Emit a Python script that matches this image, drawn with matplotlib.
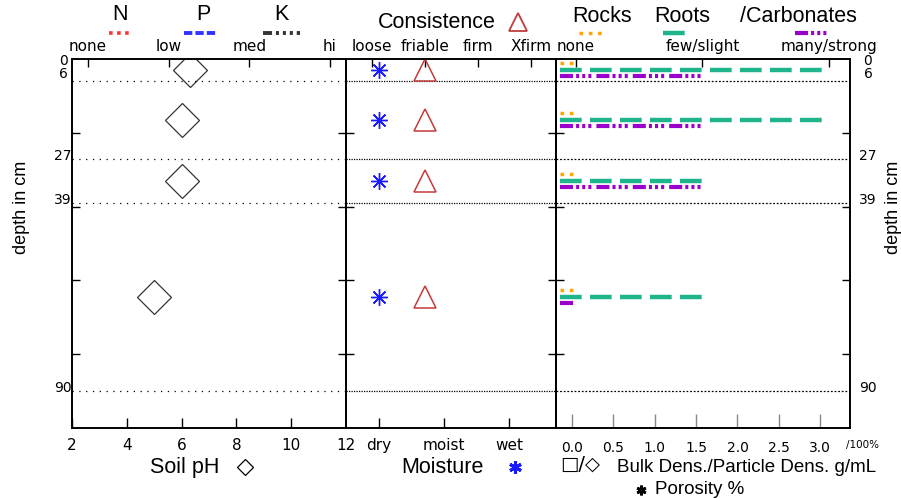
import numpy as np
import matplotlib.pyplot as plt
from matplotlib.lines import Line2D
from matplotlib.transforms import blended_transform_factory

plt.rcParams['font.family'] = ['Liberation Sans', 'DejaVu Sans']
plt.rcParams['lines.scale_dashes'] = False

# soil horizons (cm)
horizon_top = [0, 6, 27, 39]
horizon_bot = [6, 27, 39, 90]
depth_labels = [0, 6, 27, 39, 90]

soil_ph = [6.3, 6.0, 6.0, 5.0]
moisture = [0, 0, 0, 0]        # index into moisture_cls
consistence = [1, 1, 1, 1]     # index into consistence_cls
rocks = [0, 0, 0, 0]           # index into amount_cls
roots = [2, 2, 1, 1]
carbonates = [1, 1, 1, 0]

nutrient_cls = ['none', 'low', 'med', 'hi']
moisture_cls = ['dry', 'moist', 'wet']
consistence_cls = ['loose', 'friable', 'firm', 'Xfirm']
amount_cls = ['none', 'few/slight', 'many/strong']
ph_ticks = [2, 4, 6, 8, 10, 12]
dens_ticks = [0.0, 0.5, 1.0, 1.5, 2.0, 2.5, 3.0]
depth_ticks = [0, 20, 40, 60, 80, 100]

mid_depth = [(a + b) / 2 for a, b in zip(horizon_top, horizon_bot)]

W, H = 901, 498
fig = plt.figure(figsize=(W / 100, H / 100), dpi=100)


def fx(px):
    return px / W


def fy(py):
    return 1 - py / H


top, bot = 59, 428
ax1 = fig.add_axes([fx(72), fy(bot), fx(346 - 72), fy(top) - fy(bot)])
ax2 = fig.add_axes([fx(346), fy(bot), fx(556 - 346), fy(top) - fy(bot)])
ax3 = fig.add_axes([fx(556), fy(bot), fx(850 - 556), fy(top) - fy(bot)])

for ax in (ax1, ax2, ax3):
    ax.set_ylim(100, 0)
    ax.set_yticks(depth_ticks[1:-1])
    ax.set_yticklabels([])
    ax.tick_params(axis='y', direction='in', length=6, width=1,
                   left=True, right=True)
    ax.tick_params(axis='x', direction='in', length=7, width=1, pad=7,
                   labelsize=11, labelfontfamily='DejaVu Sans')
    for s in ax.spines.values():
        s.set_linewidth(1.2)

# ---- soil pH panel
ax1.set_xlim(2, 12)
ax1.set_xticks(ph_ticks)
ax1.plot(soil_ph, mid_depth, 'D', ms=17.5, mfc='none', mec='#333333',
         mew=0.9, ls='none')
ax1t = ax1.twiny()
ax1t.set_xlim(-0.2, 3.2)
ax1t.set_xticks(range(len(nutrient_cls)))
ax1t.set_xticklabels(nutrient_cls)

# ---- moisture / consistence panel
ax2.set_xlim(-0.508, 2.723)
ax2.set_xticks(range(len(moisture_cls)))
ax2.set_xticklabels(moisture_cls)
ax2.plot(moisture, mid_depth, marker=(8, 2, 0), ms=12, mec='#1a1aff',
         mew=1.0, ls='none')
ax2t = ax2.twiny()
ax2t.set_xlim(-0.49, 3.47)
ax2t.set_xticks(range(len(consistence_cls)))
ax2t.set_xticklabels(consistence_cls)
ax2t.plot(consistence, mid_depth, '^', ms=16, mfc='none', mec='#c23b3b',
          mew=1.1, ls='none')

# ---- rocks / roots / carbonates panel
ax3.set_xlim(-0.193, 3.36)
ax3.set_xticks(dens_ticks)
ax3.set_xticklabels([f'{v:.1f}' for v in dens_ticks])
ax3.tick_params(axis='x', labelsize=10, length=10, color='#888888', pad=9)
ax3t = ax3.twiny()
ax3t.set_xlim(-0.158, 2.166)
ax3t.set_xticks(range(len(amount_cls)))
ax3t.set_xticklabels(amount_cls)

rock_style = dict(color='#ffa500', lw=2.5, dashes=(2.6, 4.1),
                  dash_capstyle='butt')
root_style = dict(color='#1fb58c', lw=3.2, dashes=(15.6, 6.0),
                  dash_capstyle='butt')
carb_style = dict(color='#9900cc', lw=3.0,
                  dashes=(9.4, 2.2, 2.2, 2.2, 2.2, 2.2, 2.2, 3.6),
                  dash_capstyle='butt')
start = -0.13
for d, r, t, c in zip(mid_depth, rocks, roots, carbonates):
    ax3t.plot([start, r + 0.01], [d - 1.8, d - 1.8], **rock_style)
    ax3t.plot([start, t], [d, d], **root_style)
    ax3t.plot([start, c], [d + 1.7, d + 1.7], **carb_style)

for ax in (ax1t, ax2t, ax3t):
    ax.tick_params(axis='x', direction='in', length=6, width=1, pad=3.5,
                   labelsize=11, labelfontfamily='DejaVu Sans')
    for s in ax.spines.values():
        s.set_linewidth(1.2)

# horizon boundaries
for d in horizon_bot:
    ax1.axhline(d, color='black', lw=0.9, dashes=(0.9, 4.0))
    ax2.axhline(d, color='black', lw=0.9, dashes=(0.9, 0.9))
    ax3.axhline(d, color='black', lw=0.9, dashes=(1.3, 1.3))

# depth labels both sides
nudge = [1.7, -0.8, 0.3, 0.3, 0.3]
tl = blended_transform_factory(fig.transFigure, ax1.transData)
for d, n in zip(depth_labels, nudge):
    fig.text(fx(63), d + n, str(d), transform=tl, ha='center',
             va='baseline', fontsize=10, family='DejaVu Sans')
    fig.text(fx(868), d + n, str(d), transform=tl, ha='center',
             va='baseline', fontsize=10, family='DejaVu Sans')
fig.text(fx(22), fy(207), 'depth in cm', rotation=90, ha='center',
         va='center', fontsize=13)
fig.text(fx(893), fy(207), 'depth in cm', rotation=90, ha='center',
         va='center', fontsize=13)

# top legend titles and line samples
title_fs = 15.5
for label, x in [('N', 120), ('P', 203), ('K', 281)]:
    fig.text(fx(x), fy(15), label, ha='center', va='center', fontsize=title_fs)
legend_lines = [
    ((109, 133), dict(color='#ff3333', lw=2.6, dashes=(2.6, 3.2))),
    ((184, 218), dict(color='#3333ff', lw=2.8, dashes=(6.0, 2.2))),
    ((263, 300), dict(color='#333333', lw=2.8,
                      dashes=(6.5, 2.8, 2.2, 2.8, 2.2, 2.8, 2.2, 2.8))),
    ((579, 602), rock_style),
    ((663, 692), root_style),
    ((795, 830), carb_style),
]
for (x0, x1), st in legend_lines:
    fig.add_artist(Line2D([fx(x0), fx(x1)], [fy(33), fy(33)],
                          transform=fig.transFigure, **st))

fig.text(fx(437), fy(23), 'Consistence', ha='center', va='center',
         fontsize=title_fs)
fig.add_artist(Line2D([fx(518)], [fy(22)], transform=fig.transFigure,
                      marker='^', ms=13, mfc='none', mec='#c23b3b', mew=1.3))
fig.text(fx(602), fy(17), 'Rocks', ha='center', va='center', fontsize=title_fs)
fig.text(fx(682), fy(17), 'Roots', ha='center', va='center', fontsize=title_fs)
fig.text(fx(798), fy(17), '/Carbonates', ha='center', va='center',
         fontsize=title_fs)

# bottom labels
fig.text(fx(185), fy(467), 'Soil pH', ha='center', va='center',
         fontsize=title_fs)
fig.add_artist(Line2D([fx(245)], [fy(467)], transform=fig.transFigure,
                      marker='D', ms=8.2, mfc='none', mec='black', mew=0.9))
fig.text(fx(442), fy(467), 'Moisture', ha='center', va='center',
         fontsize=title_fs)
fig.add_artist(Line2D([fx(515)], [fy(467)], transform=fig.transFigure,
                      marker=(6, 2, 0), ms=9, mec='#1a1aff', mew=2.2))
fig.text(fx(580), fy(464), '\u25a1/\u25c7', ha='center', va='center',
         fontsize=14, family='DejaVu Sans')
fig.text(fx(747), fy(467), 'Bulk Dens./Particle Dens. g/mL', ha='center',
         va='center', fontsize=13.5)
fig.add_artist(Line2D([fx(641)], [fy(490)], transform=fig.transFigure,
                      marker=(6, 2, 0), ms=7, mec='black', mew=2.0))
fig.text(fx(700), fy(489), 'Porosity %', ha='center', va='center',
         fontsize=13.5)
fig.text(fx(863), fy(445), '/100%', ha='center', va='center', fontsize=7.5,
         family='DejaVu Sans')

fig.savefig('out.png', dpi=100)
